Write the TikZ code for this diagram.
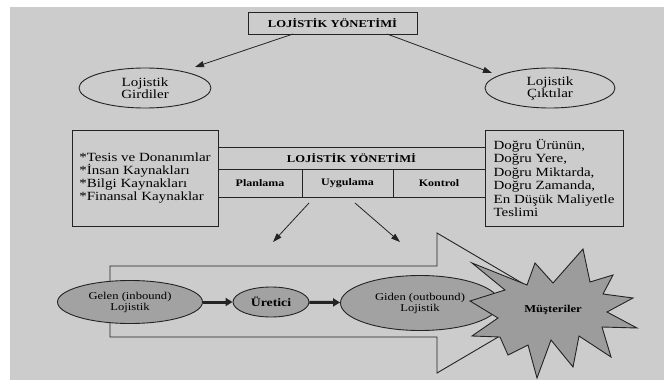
\documentclass[tikz,border=0pt]{standalone}
\usepackage{fontspec}
\setmainfont{Liberation Serif}[FakeStretch=1.2]
\usepackage{tikz}
\usetikzlibrary{shapes.geometric}
\usetikzlibrary{arrows.meta}
\definecolor{bggray}{RGB}{204,204,204}
\definecolor{ovalgray}{RGB}{162,162,162}
\definecolor{stargray}{RGB}{156,156,156}
\definecolor{inkgray}{RGB}{35,35,35}

\begin{document}
\begin{tikzpicture}[x=1pt,y=-1pt,
		box/.style={draw=inkgray,line width=0.9pt,inner sep=0pt},
		oval/.style={draw=inkgray,line width=0.9pt,ellipse,inner sep=0pt,align=center},
		tip/.style={-{Triangle[length=9pt,width=6pt]},line width=0.8pt,draw=inkgray},
		flow/.style={-{Triangle[length=7pt,width=8pt]},line width=3pt,draw=inkgray}]
		\useasboundingbox (0,0) rectangle (664,380);
		\fill[white] (0,0) rectangle (664,380);
		\fill[bggray] (10,7) rectangle (664,380);

		\node[box,minimum width=169pt,minimum height=22pt,font=\fontsize{10.5}{12}\selectfont\bfseries] (LY) at (332.5,23) {LOJİSTİK YÖNETİMİ};
		\node[oval,minimum width=132pt,minimum height=40pt,font=\fontsize{12.5}{12}\selectfont] (GIR) at (145,88) {Lojistik\\Girdiler};
		\node[oval,minimum width=130pt,minimum height=40pt,font=\fontsize{12.5}{12}\selectfont] (CIK) at (550,88) {Lojistik\\Çıktılar};

		\coordinate (LYl) at (293,34);
		\coordinate (LYr) at (387,34);
		\coordinate (GIRt) at (195,67);
		\coordinate (CIKt) at (492,73);
		\draw[tip] (LYl)--(GIRt);
		\draw[tip] (LYr)--(CIKt);

		\node[box,minimum width=146pt,minimum height=96pt,align=left,font=\fontsize{12.5}{13.3}\selectfont] (KAY) at (145,178) {*Tesis ve Donanımlar\\*İnsan Kaynakları\\*Bilgi Kaynakları\\*Finansal Kaynaklar};
		\node[box,minimum width=138pt,minimum height=96pt,align=left,font=\fontsize{12.5}{13.4}\selectfont] (TES) at (554,178) {Doğru Ürünün,\\Doğru Yere,\\Doğru Miktarda,\\Doğru Zamanda,\\En Düşük Maliyetle\\Teslimi};

		\node[box,minimum width=267pt,minimum height=22pt,font=\fontsize{10.5}{12}\selectfont\bfseries] (LYM) at (351.5,158) {LOJİSTİK YÖNETİMİ};
		\node[box,minimum width=84pt,minimum height=28pt,font=\fontsize{10}{12}\selectfont\bfseries] (PLA) at (260,183) {Planlama};
		\node[box,minimum width=91pt,minimum height=28pt,font=\fontsize{10}{12}\selectfont\bfseries] (UYG) at (347.5,183) {Uygulama};
		\node[box,minimum width=92pt,minimum height=28pt,font=\fontsize{10}{12}\selectfont\bfseries] (KON) at (439,183) {Kontrol};

		\coordinate (UYGl) at (309,203);
		\coordinate (UYGr) at (355,203);
		\coordinate (AKl) at (273,242);
		\coordinate (AKr) at (400,242);
		\draw[tip] (UYGl)--(AKl);
		\draw[tip] (UYGr)--(AKr);

		\draw[draw=inkgray,line width=0.9pt] (110,266)--(437,266)--(437,233)--(556,303)--(437,373)--(437,337)--(110,337)--cycle;

		\node[oval,fill=ovalgray,minimum width=145pt,minimum height=43pt,font=\fontsize{10.5}{11}\selectfont] (GEL) at (130,302) {Gelen (inbound)\\Lojistik};
		\node[oval,fill=ovalgray,minimum width=76pt,minimum height=30pt,font=\fontsize{11.5}{12}\selectfont\bfseries] (URE) at (271,302) {Üretici};
		\node[oval,fill=ovalgray,minimum width=159pt,minimum height=55pt,font=\fontsize{10.5}{11}\selectfont] (GID) at (420,303) {Giden (outbound)\\Lojistik};

		\draw[flow] (GEL)--(URE);
		\draw[flow] (URE)--(GID);

		\draw[draw=inkgray,line width=0.9pt,fill=stargray] (472,263)--(527,285)--(535,263)--(553,283)--(583,249)--(590,282)--(613,275)--(603,294)--(633,298)--(607,312)--(637,328)--(602,327)--(611,357)--(579,336)--(573,367)--(551,340)--(537,378)--(528,345)--(508,355)--(500,337)--(472,336)--(498,318)--(470,301)--(505,290)--cycle;
		\node[font=\fontsize{10.5}{12}\selectfont\bfseries] (MUS) at (553,310) {Müşteriler};
	\end{tikzpicture}
\end{document}
